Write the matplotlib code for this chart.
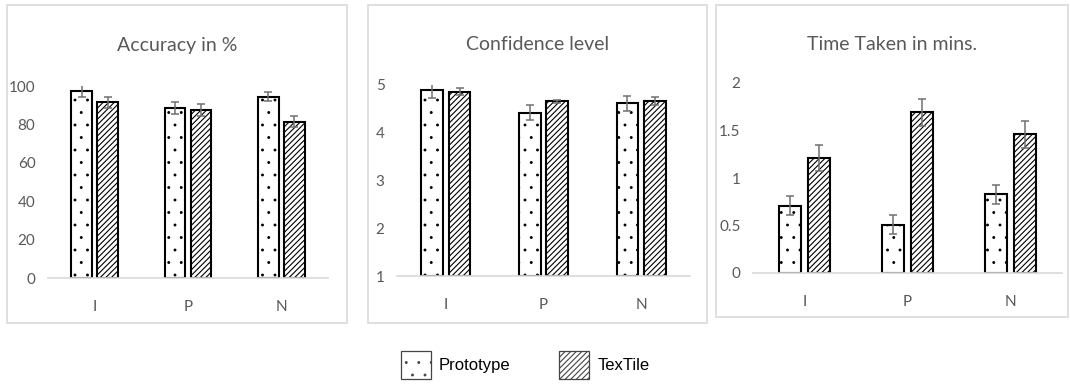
import numpy as np
import matplotlib.pyplot as plt
from matplotlib import hatch as mhatch
from matplotlib.patches import Rectangle, Patch

plt.rcParams['font.family'] = ['Lato', 'DejaVu Sans']
plt.rcParams['hatch.linewidth'] = 0.8


class SparseDots(mhatch.Circles):
    """Filled dot hatch a little denser and finer than the stock '.' pattern."""
    size = 0.07
    filled = True

    def __init__(self, hatch, density):
        self.num_rows = int(hatch.count('.') * density * 4 // 3)
        super().__init__(hatch, density)


mhatch._hatch_types[mhatch._hatch_types.index(mhatch.SmallFilledCircles)] = SparseDots

categories = ['I', 'P', 'N']

accuracy_proto = [97.5, 88.5, 94.5]
accuracy_textile = [91.5, 87.5, 81.5]
accuracy_proto_err = [3, 3, 2.5]
accuracy_textile_err = [3, 3, 3]

confidence_proto = [4.89, 4.42, 4.62]
confidence_textile = [4.86, 4.66, 4.66]
confidence_proto_err = [0.16, 0.16, 0.16]
confidence_textile_err = [0.07, 0.03, 0.08]

time_proto = [0.71, 0.51, 0.83]
time_textile = [1.21, 1.69, 1.46]
time_proto_err = [0.10, 0.10, 0.10]
time_textile_err = [0.14, 0.14, 0.14]

W, H = 1070, 385
GRID = '#d9d9d9'
TEXT = '#595959'

fig = plt.figure(figsize=(W / 100, H / 100), dpi=100)


def px_box(x0, y0, x1, y1):
    """Convert pixel box (top-left origin) to figure fraction [l, b, w, h]."""
    return [x0 / W, 1 - y1 / H, (x1 - x0) / W, (y1 - y0) / H]


def panel(frame, axbox, title, proto, textile, perr, terr, ylim, yticks, yticklabels):
    l, b, w, h = px_box(*frame)
    fig.patches.append(Rectangle((l, b), w, h, transform=fig.transFigure,
                                 facecolor='none', edgecolor=GRID, lw=1.2, zorder=0))
    ax = fig.add_axes(px_box(*axbox))
    ax.patch.set_alpha(0)
    x = np.arange(len(categories))
    bw, gap = 0.22, 0.06
    off = (bw + gap) / 2
    ax.bar(x - off, np.array(proto) - ylim[0], bw, bottom=ylim[0], color='white',
           edgecolor='black', lw=1.5, hatch='.', zorder=2)
    ax.bar(x + off, np.array(textile) - ylim[0], bw, bottom=ylim[0], color='white',
           edgecolor='black', lw=1.5, hatch='//////', zorder=2)
    ax.errorbar(x - off, proto, yerr=perr, fmt='none', ecolor='#707070',
                elinewidth=1.1, capsize=3, capthick=1.1, zorder=3)
    ax.errorbar(x + off, textile, yerr=terr, fmt='none', ecolor='#707070',
                elinewidth=1.1, capsize=3, capthick=1.1, zorder=3)
    ax.set_xlim(-0.5, len(categories) - 0.5)
    ax.set_ylim(*ylim)
    ax.set_yticks(yticks)
    ax.set_yticklabels(yticklabels)
    ax.set_xticks(x)
    ax.set_xticklabels(categories)
    for s in ['top', 'right', 'left']:
        ax.spines[s].set_visible(False)
    ax.spines['bottom'].set_color(GRID)
    ax.spines['bottom'].set_linewidth(1.2)
    ax.tick_params(axis='both', length=0, colors=TEXT, labelsize=11)
    ax.tick_params(axis='x', pad=16)
    ax.tick_params(axis='y', pad=9)
    cx = (frame[0] + frame[2]) / 2 / W
    fig.text(cx, 1 - 45 / H, title, ha='center', va='center', fontsize=14, color=TEXT)
    return ax


panel((7, 5, 347, 323), (48, 86, 328, 278), 'Accuracy in %',
      accuracy_proto, accuracy_textile, accuracy_proto_err, accuracy_textile_err,
      (0, 100), [0, 20, 40, 60, 80, 100], ['0', '20', '40', '60', '80', '100'])
panel((368, 5, 707, 323), (397, 85, 690, 276), 'Confidence level',
      confidence_proto, confidence_textile, confidence_proto_err, confidence_textile_err,
      (1, 5), [1, 2, 3, 4, 5], ['1', '2', '3', '4', '5'])
panel((716, 5, 1068, 317), (753, 83, 1062, 273), 'Time Taken in mins.',
      time_proto, time_textile, time_proto_err, time_textile_err,
      (0, 2), [0, 0.5, 1, 1.5, 2], ['0', '0.5', '1', '1.5', '2'])

handles = [Patch(facecolor='white', edgecolor='#444444', hatch='.', lw=0.9),
           Patch(facecolor='white', edgecolor='#444444', hatch='//////', lw=0.9)]
fig.legend(handles, ['Prototype', 'TexTile'], loc='center', bbox_to_anchor=(525 / W, 1 - 365 / H),
           ncol=2, frameon=False, handlelength=1.8, handleheight=2.15, handletextpad=0.5,
           columnspacing=2.9, prop={'family': ['Liberation Sans', 'DejaVu Sans'], 'size': 12})

fig.savefig('out.png', dpi=100)
